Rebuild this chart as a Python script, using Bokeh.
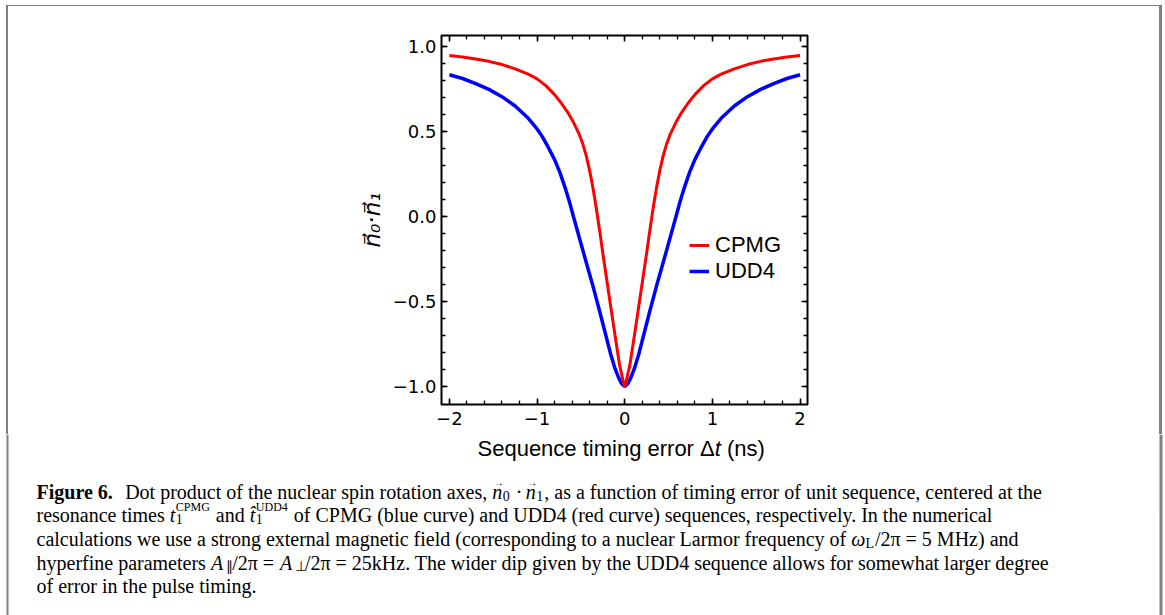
from bokeh.plotting import figure
from bokeh.layouts import column, row
from bokeh.models import (LinearAxis, FixedTicker, CustomJSTickFormatter,
                          Legend, LegendItem, Range1d, Spacer)
from bokeh.core.properties import value
from bokeh.embed import file_html
from bokeh.resources import INLINE

# ---------------- data ----------------
cpmg_x = [-2.0, -1.85, -1.7, -1.55, -1.4, -1.25, -1.1, -1.0, -0.9, -0.8, -0.72, -0.64,
          -0.58, -0.52, -0.48, -0.44, -0.4, -0.37, -0.34, -0.31, -0.28, -0.25, -0.2,
          -0.15, -0.1, -0.06, -0.03, -0.015, 0.0,
          0.015, 0.03, 0.06, 0.1, 0.15, 0.2, 0.25, 0.28, 0.31, 0.34, 0.37, 0.4, 0.44,
          0.48, 0.52, 0.58, 0.64, 0.72, 0.8, 0.9, 1.0, 1.1, 1.25, 1.4, 1.55, 1.7, 1.85, 2.0]
cpmg_y = [0.947, 0.938, 0.927, 0.913, 0.894, 0.869, 0.838, 0.81, 0.77, 0.717, 0.665, 0.605,
          0.55, 0.485, 0.43, 0.36, 0.27, 0.19, 0.10, 0.0, -0.105, -0.215, -0.39,
          -0.563, -0.735, -0.87, -0.94, -0.975, -1.0,
          -0.975, -0.94, -0.87, -0.735, -0.563, -0.39, -0.215, -0.105, 0.0, 0.10, 0.19, 0.27, 0.36,
          0.43, 0.485, 0.55, 0.605, 0.665, 0.717, 0.77, 0.81, 0.838, 0.869, 0.894, 0.913, 0.927, 0.938, 0.947]

udd4_x = [-2.0, -1.85, -1.7, -1.55, -1.4, -1.25, -1.1, -1.0, -0.94, -0.87, -0.8, -0.74,
          -0.68, -0.63, -0.585, -0.52, -0.45, -0.37, -0.295, -0.22, -0.16, -0.11, -0.07,
          -0.035, 0.0,
          0.035, 0.07, 0.11, 0.16, 0.22, 0.295, 0.37, 0.45, 0.52, 0.585, 0.63, 0.68,
          0.74, 0.8, 0.87, 0.94, 1.0, 1.1, 1.25, 1.4, 1.55, 1.7, 1.85, 2.0]
udd4_y = [0.834, 0.812, 0.782, 0.748, 0.705, 0.65, 0.578, 0.515, 0.47, 0.405, 0.335, 0.26,
          0.17, 0.085, 0.0, -0.12, -0.25, -0.395, -0.54, -0.69, -0.81, -0.895, -0.948,
          -0.984, -1.0,
          -0.984, -0.948, -0.895, -0.81, -0.69, -0.54, -0.395, -0.25, -0.12, 0.0, 0.085, 0.17,
          0.26, 0.335, 0.405, 0.47, 0.515, 0.578, 0.65, 0.705, 0.748, 0.782, 0.812, 0.834]

x_major = [-2, -1, 0, 1, 2]
y_major = [-1.0, -0.5, 0.0, 0.5, 1.0]
x_minor = [round(-2.0 + 0.2 * i, 2) for i in range(21)]
y_minor = [round(-1.0 + 0.1 * i, 2) for i in range(21)]

series_names = ["CPMG", "UDD4"]
series_colors = ["#ff0000", "#0000ff"]

x_title = [("Sequence timing error \u0394", "normal"), ("t", "italic"), (" (ns)", "normal")]

caption_lines = [
    [("Figure 6.", "b"), ("", "gap"), ("Dot product of the nuclear spin rotation axes, ", "r"),
     ("n", "vec"), ("0", "sub"), (" \u00b7 ", "r"), ("n", "vec"), ("1", "sub"),
     (", as a function of timing error of unit sequence, centered at the", "r")],
    [("resonance times ", "r"), ("t", "i"), (("1", "CPMG"), "stack"), (" and ", "r"),
     ("t\u0302", "i"), (("1", "UDD4"), "stack"),
     (" of CPMG (blue curve) and UDD4 (red curve) sequences, respectively. In the numerical", "r")],
    [("calculations we use a strong external magnetic field (corresponding to a nuclear Larmor frequency of ", "r"),
     ("\u03c9", "i"), ("L", "sub"), ("/2\u03c0 = 5 MHz) and", "r")],
    [("hyperfine parameters ", "r"), ("A", "i"), ("\u2225", "sub"), ("/2\u03c0 = ", "r"),
     ("A", "i"), ("\u22a5", "sub"),
     ("/2\u03c0 = 25kHz. The wider dip given by the UDD4 sequence allows for somewhat larger degree", "r")],
    [("of error in the pulse timing.", "r")],
]

# ---------------- page geometry ----------------
W, H = 1165, 615
GREY = "#808080"
MID_TOP, MID_BOT = 6, 434
L_W = 355                 # width left of the plot figure
P_W = 482                 # plot figure (frame 439..807 + borders)
R_X0 = L_W + P_W
FRAME_L, FRAME_R, FRAME_T, FRAME_B = 439, 807, 35, 404
TEXT_DY = -8              # baseline correction for text glyphs

# Times-metric widths (Liberation Serif) and Arial-metric widths (Liberation Sans), per 1000 em
TIMES = dict(zip(" (),-./0123456789=",
                 [250, 333, 333, 250, 333, 250, 278] + [500] * 10 + [564]))
TIMES.update(dict(zip("ABCDEFGHIJKLMNOPQRSTUVWXYZ",
                      [722, 667, 667, 722, 611, 556, 722, 722, 333, 389, 722, 611, 889, 722, 722,
                       556, 722, 667, 556, 611, 722, 722, 944, 722, 722, 611])))
TIMES.update(dict(zip("abcdefghijklmnopqrstuvwxyz",
                      [444, 500, 444, 500, 444, 333, 500, 500, 278, 278, 500, 278, 778, 500, 500,
                       500, 500, 333, 389, 278, 500, 500, 722, 500, 500, 444])))
TIMES.update({"\u00b7": 250, "\u03c0": 550, "\u03c9": 680, "\u2225": 380, "\u22a5": 640,
              "\u0302": 0})
TIMES_BOLD = dict(TIMES)
TIMES_BOLD.update({"F": 611, "u": 556, "r": 444})
ARIAL = {" ": 278, "S": 667, "e": 556, "q": 556, "u": 556, "n": 556, "c": 500, "t": 278,
         "i": 222, "m": 833, "g": 556, "r": 333, "o": 556, "\u0394": 668, "(": 333,
         ")": 333, "s": 500}


def width(s, size, table):
    return sum(table.get(ch, 500) for ch in s) * size / 1000.0


def bar(w, h, grey=False):
    if grey:
        return Spacer(width=w, height=h, styles={"background-color": GREY})
    return Spacer(width=w, height=h)


# ---- main plot ----
mid_h = MID_BOT - MID_TOP
p = figure(width=P_W, height=mid_h, output_backend="svg", toolbar_location=None,
           x_range=Range1d(-2.09, 2.085), y_range=Range1d(-1.106, 1.065),
           min_border_left=FRAME_L - L_W, min_border_right=R_X0 - FRAME_R,
           min_border_top=FRAME_T - MID_TOP, min_border_bottom=MID_BOT - FRAME_B)
p.grid.visible = False
p.outline_line_color = "black"
p.outline_line_width = 2
p.background_fill_color = "white"
p.border_fill_color = "white"

xfmt = CustomJSTickFormatter(code="return (tick < 0 ? '\u2212' : '') + Math.abs(tick).toFixed(0);")
yfmt = CustomJSTickFormatter(code="return (tick < 0 ? '\u2212' : '') + Math.abs(tick).toFixed(1);")
blank = CustomJSTickFormatter(code="return '';")


def style_axis(ax, ticks, minor, fmt, labels=True):
    ax.ticker = FixedTicker(ticks=ticks, minor_ticks=minor)
    ax.formatter = fmt
    ax.axis_line_color = None
    ax.major_tick_in = 6
    ax.major_tick_out = 0
    ax.minor_tick_in = 4
    ax.minor_tick_out = 0
    ax.major_tick_line_color = "black"
    ax.major_tick_line_width = 1.5
    ax.minor_tick_line_color = "black"
    ax.minor_tick_line_width = 1.3
    ax.major_label_text_font = "DejaVu Sans"
    ax.major_label_text_font_size = "18px" if labels else "0px"
    ax.major_label_text_color = "black"
    if not labels:
        ax.major_label_standoff = 0


style_axis(p.xaxis[0], x_major, x_minor, xfmt)
p.xaxis[0].major_label_standoff = 7
style_axis(p.yaxis[0], y_major, y_minor, yfmt)
p.yaxis[0].major_label_standoff = 5
p.yaxis[0].axis_label = "n\u20d7\u2080\u00b7n\u20d7\u2081"
p.yaxis[0].axis_label_text_font = "DejaVu Sans"
p.yaxis[0].axis_label_text_font_style = "italic"
p.yaxis[0].axis_label_text_font_size = "23px"
p.yaxis[0].axis_label_text_color = "black"
p.yaxis[0].axis_label_standoff = 5

top_ax = LinearAxis()
style_axis(top_ax, x_major, x_minor, blank, labels=False)
p.add_layout(top_ax, "above")
right_ax = LinearAxis()
style_axis(right_ax, y_major, y_minor, blank, labels=False)
p.add_layout(right_ax, "right")

r_udd = p.line(udd4_x, udd4_y, line_color=series_colors[1], line_width=3.5)
r_cpmg = p.line(cpmg_x, cpmg_y, line_color=series_colors[0], line_width=3)

legend = Legend(items=[LegendItem(label=series_names[0], renderers=[r_cpmg]),
                       LegendItem(label=series_names[1], renderers=[r_udd])],
                location=(687 - FRAME_L, FRAME_B - 284), orientation="vertical")
legend.label_text_font = "Liberation Sans"
legend.label_text_font_size = "22px"
legend.label_text_color = "black"
legend.glyph_width = 20
legend.glyph_height = 24
legend.label_height = 24
legend.label_standoff = 6
legend.spacing = 0
legend.padding = 0
legend.margin = 0
legend.border_line_color = None
legend.background_fill_alpha = 0
p.add_layout(legend)

# ---- bottom figure: axis title + caption (data units = page pixels) ----
b_fig = figure(width=W, height=H - MID_BOT, output_backend="svg", toolbar_location=None,
               x_range=Range1d(0, W), y_range=Range1d(H, MID_BOT),
               min_border=0, x_axis_location=None, y_axis_location=None)
b_fig.grid.visible = False
b_fig.outline_line_color = None
b_fig.background_fill_color = "white"
b_fig.border_fill_color = "white"
b_fig.quad(left=[6, 1159], right=[8, 1162], top=[MID_BOT, MID_BOT], bottom=[H, H],
           fill_color=GREY, line_color=None)


def put(x, y, s, font, size, style, table):
    lead = len(s) - len(s.lstrip(" "))
    x += width(s[:lead], size, table)
    s = s.strip(" ")
    if s:
        b_fig.text(x=[x], y=[y + TEXT_DY], text=[s], text_font=value(font),
                   text_font_size=f"{size:.1f}px", text_font_style=style,
                   text_align="left", text_baseline="alphabetic", text_color="black")


# x axis title, Liberation Sans
xt, yt, st = 477.0, 456.0, 22
for s, style in x_title:
    put(xt, yt, s, "Liberation Sans", st, style, ARIAL)
    xt += width(s, st, ARIAL)

# caption, Liberation Serif
F = 20.0
SUB, SUP = 14.0, 12.0
SERIF = "Liberation Serif"
baselines = [499, 522.5, 546.5, 570, 593.5]
for line, yb in zip(caption_lines, baselines):
    x = 36.0
    for seg, kind in line:
        if kind == "gap":
            x += 0.6 * F
        elif kind == "b":
            put(x, yb, seg, SERIF, F, "bold", TIMES_BOLD)
            x += width(seg, F, TIMES_BOLD)
        elif kind == "r":
            put(x, yb, seg, SERIF, F, "normal", TIMES)
            x += width(seg, F, TIMES)
        elif kind == "i":
            put(x, yb, seg, SERIF, F, "italic", TIMES)
            x += width(seg, F, TIMES) + 0.5
        elif kind == "vec":
            put(x, yb, seg, SERIF, F, "italic", TIMES)
            put(x + 1.5, yb - 9, "\u2192", SERIF, 10.0, "normal", TIMES)
            x += width(seg, F, TIMES) + 0.5
        elif kind == "sub":
            put(x, yb + 4, seg, SERIF, SUB, "normal", TIMES)
            x += width(seg, SUB, TIMES) + 1
        elif kind == "stack":
            lo, hi = seg
            put(x, yb + 4, lo, SERIF, SUB, "normal", TIMES)
            put(x, yb - 8, hi, SERIF, SUP, "normal", TIMES)
            x += max(width(lo, SUB, TIMES), width(hi, SUP, TIMES)) + 1

# ---- page assembly ----
top_rule = row(bar(6, 1), bar(W - 9, 1, True), bar(3, 1))
middle = row(bar(6, mid_h), bar(2, mid_h, True), bar(L_W - 8, mid_h), p,
             bar(1159 - R_X0, mid_h), bar(3, mid_h, True), bar(W - 1162, mid_h))
layout = column(bar(W, 5), top_rule, middle, b_fig)
open("out.html", "w").write(file_html(layout, INLINE))
